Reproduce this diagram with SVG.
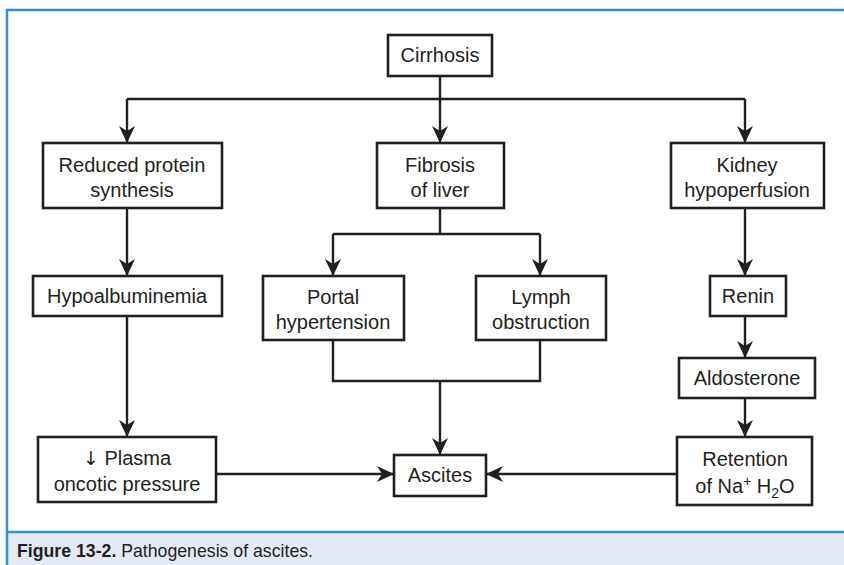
<svg xmlns="http://www.w3.org/2000/svg" width="844" height="565" viewBox="0 0 844 565">
<style>
.box{fill:#fff;stroke:#231f20;stroke-width:2.6}
.t{font-family:"Liberation Sans",Arial,sans-serif;font-size:20px;fill:#231f20;text-anchor:middle}
.c{fill:none;stroke:#231f20;stroke-width:2.4}
.cap{font-family:"Liberation Sans",Arial,sans-serif;font-size:19px;fill:#231f20}
</style>
<defs>
<marker id="ah" markerUnits="userSpaceOnUse" markerWidth="18" markerHeight="17" refX="17" refY="8" orient="auto" viewBox="0 0 18 16">
<path d="M0,0 L17,8 L0,16 L5,8 Z" fill="#231f20"/>
</marker>
</defs>
<rect x="0" y="0" width="844" height="565" fill="#fff"/>
<rect x="7" y="532" width="837" height="33" fill="#e3eaf6"/>
<path d="M7,565 V10 H844" fill="none" stroke="#2e8fcc" stroke-width="2.5"/>
<path d="M7,532 H844" fill="none" stroke="#2e8fcc" stroke-width="2.5"/>
<text class="cap" x="17" y="557" textLength="296" lengthAdjust="spacingAndGlyphs"><tspan font-weight="bold">Figure 13-2.</tspan> Pathogenesis of ascites.</text>

<g id="connectors">
<path class="c" d="M440,76 V99"/>
<path class="c" d="M127,99 H745"/>
<path class="c" d="M127,99 V143" marker-end="url(#ah)"/>
<path class="c" d="M745,99 V143" marker-end="url(#ah)"/>
<path class="c" d="M440,99 V143" marker-end="url(#ah)"/>
<path class="c" d="M127,208 V276" marker-end="url(#ah)"/>
<path class="c" d="M127,316 V437" marker-end="url(#ah)"/>
<path class="c" d="M440,208 V234"/>
<path class="c" d="M333,234 H540"/>
<path class="c" d="M333,234 V276" marker-end="url(#ah)"/>
<path class="c" d="M540,234 V276" marker-end="url(#ah)"/>
<path class="c" d="M333,340 V381 H540 V340"/>
<path class="c" d="M440,381 V455" marker-end="url(#ah)"/>
<path class="c" d="M745,208 V276" marker-end="url(#ah)"/>
<path class="c" d="M745,316 V358" marker-end="url(#ah)"/>
<path class="c" d="M745,398 V437" marker-end="url(#ah)"/>
<path class="c" d="M216,474 H394" marker-end="url(#ah)"/>
<path class="c" d="M677,474 H486" marker-end="url(#ah)"/>
</g>

<g id="cirrhosis"><rect class="box" x="388" y="35" width="104" height="41"/><text class="t" x="440" y="62">Cirrhosis</text></g>
<g id="reduced"><rect class="box" x="43" y="143" width="179" height="65"/><text class="t" x="132" y="172">Reduced protein</text><text class="t" x="132" y="197">synthesis</text></g>
<g id="fibrosis"><rect class="box" x="377" y="143" width="127" height="65"/><text class="t" x="440" y="172">Fibrosis</text><text class="t" x="440" y="197">of liver</text></g>
<g id="kidney"><rect class="box" x="671" y="143" width="153" height="65"/><text class="t" x="747" y="172">Kidney</text><text class="t" x="747" y="197">hypoperfusion</text></g>
<g id="hypoalbuminemia"><rect class="box" x="33" y="276" width="189" height="40"/><text class="t" x="127" y="303">Hypoalbuminemia</text></g>
<g id="portal"><rect class="box" x="263" y="276" width="141" height="64"/><text class="t" x="333" y="304">Portal</text><text class="t" x="333" y="329">hypertension</text></g>
<g id="lymph"><rect class="box" x="476" y="276" width="130" height="64"/><text class="t" x="541" y="304">Lymph</text><text class="t" x="541" y="329">obstruction</text></g>
<g id="renin"><rect class="box" x="710" y="276" width="76" height="40"/><text class="t" x="748" y="303">Renin</text></g>
<g id="aldosterone"><rect class="box" x="679" y="358" width="136" height="40"/><text class="t" x="747" y="385">Aldosterone</text></g>
<g id="plasma"><rect class="box" x="38" y="437" width="178" height="65"/><text class="t" x="127" y="465"><tspan font-family="DejaVu Sans" font-size="19">↓</tspan> Plasma</text><text class="t" x="127" y="491">oncotic pressure</text></g>
<g id="ascites"><rect class="box" x="394" y="455" width="92" height="41"/><text class="t" x="440" y="482">Ascites</text></g>
<g id="retention"><rect class="box" x="677" y="437" width="135" height="68"/><text class="t" x="745" y="466">Retention</text><text class="t" x="745" y="493">of Na<tspan font-size="14" dy="-7">+</tspan><tspan dy="7"> H</tspan><tspan font-size="14" dy="5">2</tspan><tspan dy="-5">O</tspan></text></g>
</svg>
